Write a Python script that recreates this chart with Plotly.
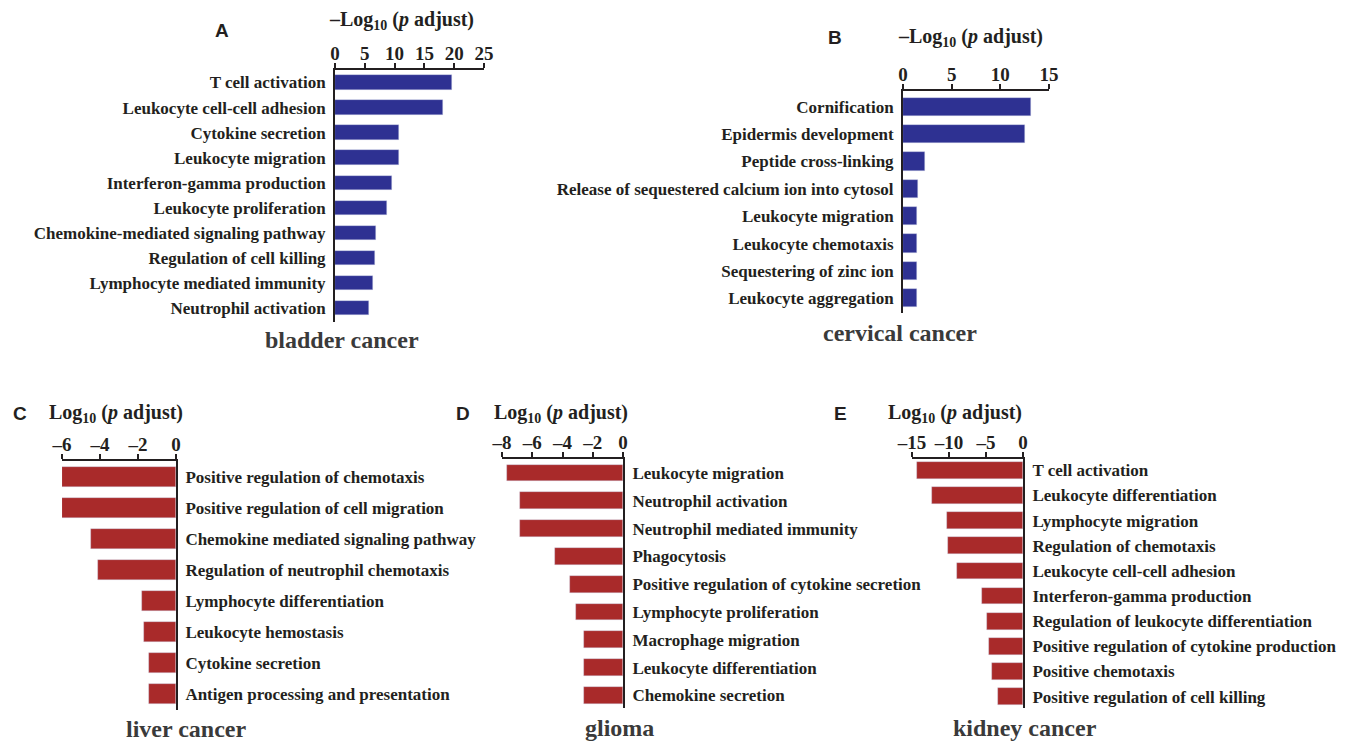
import plotly.graph_objects as go

W, H = 1357, 742

# ---------------- data ----------------
bladder_terms = [
    "T cell activation", "Leukocyte cell-cell adhesion", "Cytokine secretion",
    "Leukocyte migration", "Interferon-gamma production", "Leukocyte proliferation",
    "Chemokine-mediated signaling pathway", "Regulation of cell killing",
    "Lymphocyte mediated immunity", "Neutrophil activation",
]
bladder_vals = [19.6, 18.2, 10.8, 10.8, 9.6, 8.7, 6.9, 6.7, 6.4, 5.7]

cervical_terms = [
    "Cornification", "Epidermis development", "Peptide cross-linking",
    "Release of sequestered calcium ion into cytosol", "Leukocyte migration",
    "Leukocyte chemotaxis", "Sequestering of zinc ion", "Leukocyte aggregation",
]
cervical_vals = [13.2, 12.5, 2.3, 1.5, 1.4, 1.4, 1.4, 1.4]

liver_terms = [
    "Positive regulation of chemotaxis", "Positive regulation of cell migration",
    "Chemokine mediated signaling pathway", "Regulation of neutrophil chemotaxis",
    "Lymphocyte differentiation", "Leukocyte hemostasis", "Cytokine secretion",
    "Antigen processing and presentation",
]
liver_vals = [-6.0, -6.0, -4.5, -4.1, -1.8, -1.7, -1.4, -1.4]

glioma_terms = [
    "Leukocyte migration", "Neutrophil activation", "Neutrophil mediated immunity",
    "Phagocytosis", "Positive regulation of cytokine secretion",
    "Lymphocyte proliferation", "Macrophage migration", "Leukocyte differentiation",
    "Chemokine secretion",
]
glioma_vals = [-7.7, -6.8, -6.8, -4.5, -3.5, -3.1, -2.6, -2.6, -2.55]

kidney_terms = [
    "T cell activation", "Leukocyte differentiation", "Lymphocyte migration",
    "Regulation of chemotaxis", "Leukocyte cell-cell adhesion",
    "Interferon-gamma production", "Regulation of leukocyte differentiation",
    "Positive regulation of cytokine production", "Positive chemotaxis",
    "Positive regulation of cell killing",
]
kidney_vals = [-14.3, -12.3, -10.3, -10.2, -8.9, -5.6, -4.9, -4.6, -4.2, -3.4]

bladder_ticks = [0, 5, 10, 15, 20, 25]
cervical_ticks = [0, 5, 10, 15]
liver_ticks = [-6, -4, -2, 0]
glioma_ticks = [-8, -6, -4, -2, 0]
kidney_ticks = [-15, -10, -5, 0]

# ---------------- styling ----------------
BLUE = "#2E3192"
RED = "#A92A2A"
INK = "#231F20"
SERIF = "Liberation Serif"
SANS = "Liberation Sans"


def tick_text(v):
    return ("–" + str(abs(v))) if v < 0 else str(v)


# panel geometry in pixels
panels = [
    dict(letter="A", name="bladder cancer", terms=bladder_terms, vals=bladder_vals,
         ticks=bladder_ticks, rng=[0, 25], color=BLUE, side="left",
         x0=335, x1=484, top=70, bottom=322, bw=0.58, tpad=0.5, bpad=0.55,
         lx=222, ly=30, tx=401, ty=20, nx=342, ny=340, neg=False),
    dict(letter="B", name="cervical cancer", terms=cervical_terms, vals=cervical_vals,
         ticks=cervical_ticks, rng=[0, 15], color=BLUE, side="left",
         x0=903, x1=1049, top=91, bottom=313, bw=0.67, tpad=0.58, bpad=0.54,
         lx=835, ly=37, tx=970, ty=37, nx=900, ny=333, neg=False),
    dict(letter="C", name="liver cancer", terms=liver_terms, vals=liver_vals,
         ticks=liver_ticks, rng=[-6, 0], color=RED, side="right",
         x0=62, x1=176, top=461, bottom=710, bw=0.64, tpad=0.5, bpad=0.5,
         lx=20, ly=413, tx=116, ty=413, nx=186, ny=729, neg=True),
    dict(letter="D", name="glioma", terms=glioma_terms, vals=glioma_vals,
         ticks=glioma_ticks, rng=[-8, 0], color=RED, side="right",
         x0=502, x1=623, top=459, bottom=708, bw=0.6, tpad=0.5, bpad=0.45,
         lx=463, ly=413, tx=561, ty=413, nx=619, ny=728, neg=True),
    dict(letter="E", name="kidney cancer", terms=kidney_terms, vals=kidney_vals,
         ticks=kidney_ticks, rng=[-15, 0], color=RED, side="right",
         x0=912, x1=1023, top=459, bottom=708, bw=0.66, tpad=0.45, bpad=0.45,
         lx=840, ly=413, tx=955, ty=413, nx=1025, ny=728, neg=True),
]

fig = go.Figure()
annotations = []
layout_axes = {}

for i, p in enumerate(panels, start=1):
    n = len(p["terms"])
    pos = list(range(n))
    xa = "x" if i == 1 else f"x{i}"
    ya = "y" if i == 1 else f"y{i}"
    fig.add_trace(go.Bar(
        x=p["vals"], y=pos, orientation="h", width=p["bw"],
        marker=dict(color=p["color"], line=dict(color="rgba(200,205,230,0.6)", width=0.6)),
        xaxis=xa, yaxis=ya, showlegend=False, hoverinfo="x+y",
    ))
    xkey = "xaxis" if i == 1 else f"xaxis{i}"
    ykey = "yaxis" if i == 1 else f"yaxis{i}"
    layout_axes[xkey] = dict(
        domain=[p["x0"] / W, p["x1"] / W], range=p["rng"], anchor=ya, side="top",
        showline=True, linecolor=INK, linewidth=2, mirror=False, automargin=False,
        ticks="outside", ticklen=5, tickwidth=1.5, tickcolor=INK,
        tickvals=p["ticks"], ticktext=[tick_text(t) for t in p["ticks"]],
        tickfont=dict(family=SERIF, size=19, color=INK, weight="bold"),
        ticklabelstandoff=-5,
        showgrid=False, zeroline=False, fixedrange=True,
    )
    layout_axes[ykey] = dict(
        domain=[1 - p["bottom"] / H, 1 - p["top"] / H],
        range=[n - 1 + p["bpad"], -p["tpad"]], anchor=xa, side=p["side"],
        showline=True, linecolor=INK, linewidth=2, automargin=False,
        ticks="", tickvals=pos, ticktext=p["terms"], ticklabelstandoff=4,
        tickfont=dict(family=SERIF, size=17, color=INK, weight="bold"),
        showgrid=False, zeroline=False, fixedrange=True,
    )
    title = ("–" if not p["neg"] else "") + "Log<sub>10</sub> (<i>p</i> adjust)"
    annotations += [
        dict(text=p["letter"], x=p["lx"] / W, y=1 - p["ly"] / H, xref="paper", yref="paper",
             xanchor="center", yanchor="middle", showarrow=False,
             font=dict(family=SANS, size=19, color=INK, weight="bold")),
        dict(text=title, x=p["tx"] / W, y=1 - p["ty"] / H, xref="paper", yref="paper",
             xanchor="center", yanchor="middle", showarrow=False,
             font=dict(family=SERIF, size=20, color=INK, weight="bold")),
        dict(text=p["name"], x=p["nx"] / W, y=1 - p["ny"] / H, xref="paper", yref="paper",
             xanchor="center", yanchor="middle", showarrow=False,
             font=dict(family=SERIF, size=24, color="#3A3A3A", weight="bold")),
    ]

fig.update_layout(
    width=W, height=H, margin=dict(l=0, r=0, t=0, b=0),
    paper_bgcolor="white", plot_bgcolor="white",
    annotations=annotations, bargap=0, **layout_axes,
)

fig.write_html("out.html", config=dict(displayModeBar=False))
